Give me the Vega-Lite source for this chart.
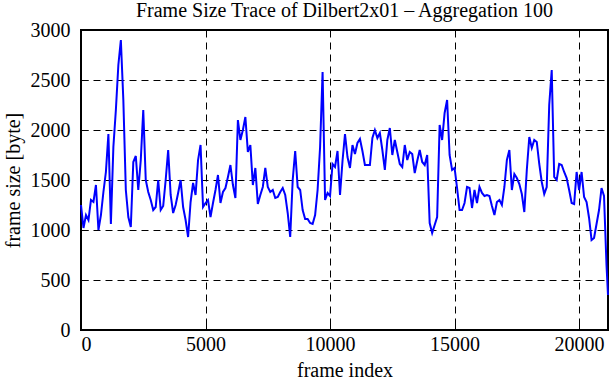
{
  "$schema": "https://vega.github.io/schema/vega-lite/v6.json",
  "width": 527,
  "height": 300,
  "autosize": {"type": "none"},
  "padding": {"left": 81, "top": 30, "right": 3, "bottom": 50},
  "background": "white",
  "title": {
    "text": "Frame Size Trace of Dilbert2x01 – Aggregation 100",
    "frame": "group",
    "anchor": "middle",
    "baseline": "alphabetic",
    "offset": -17,
    "font": "Liberation Serif",
    "fontSize": 20,
    "fontWeight": "normal",
    "color": "black"
  },
  "config": {
    "view": {"stroke": "black", "strokeWidth": 2},
    "axis": {
      "labelFont": "Liberation Serif",
      "labelFontSize": 20,
      "labelColor": "black",
      "titleFont": "Liberation Serif",
      "titleFontSize": 20,
      "titleFontWeight": "normal",
      "titleColor": "black",
      "domain": false,
      "grid": true,
      "gridColor": "black",
      "gridOpacity": 1,
      "gridWidth": 1,
      "gridDash": [7, 5],
      "ticks": true,
      "tickColor": "black",
      "tickWidth": 1,
      "tickSize": -7
    }
  },
  "data": {
    "values": [
      {"frame": 0, "size": 1250}, {"frame": 100, "size": 1020}, {"frame": 200, "size": 1150}, {"frame": 300, "size": 1100},
      {"frame": 400, "size": 1300}, {"frame": 500, "size": 1280}, {"frame": 600, "size": 1450}, {"frame": 700, "size": 1000},
      {"frame": 800, "size": 1150}, {"frame": 900, "size": 1380}, {"frame": 1000, "size": 1580}, {"frame": 1100, "size": 1960},
      {"frame": 1200, "size": 1060}, {"frame": 1300, "size": 1830}, {"frame": 1400, "size": 2200}, {"frame": 1500, "size": 2650},
      {"frame": 1600, "size": 2900}, {"frame": 1700, "size": 2300}, {"frame": 1800, "size": 1400}, {"frame": 1900, "size": 1130},
      {"frame": 2000, "size": 1030}, {"frame": 2100, "size": 1680}, {"frame": 2200, "size": 1740}, {"frame": 2300, "size": 1400},
      {"frame": 2400, "size": 1700}, {"frame": 2500, "size": 2200}, {"frame": 2600, "size": 1500}, {"frame": 2700, "size": 1380},
      {"frame": 2800, "size": 1300}, {"frame": 2900, "size": 1200}, {"frame": 3000, "size": 1230}, {"frame": 3100, "size": 1500},
      {"frame": 3200, "size": 1200}, {"frame": 3300, "size": 1240}, {"frame": 3400, "size": 1500}, {"frame": 3500, "size": 1800},
      {"frame": 3600, "size": 1350}, {"frame": 3700, "size": 1170}, {"frame": 3800, "size": 1250}, {"frame": 3900, "size": 1370},
      {"frame": 4000, "size": 1500}, {"frame": 4100, "size": 1230}, {"frame": 4200, "size": 1100}, {"frame": 4300, "size": 930},
      {"frame": 4400, "size": 1280}, {"frame": 4500, "size": 1470}, {"frame": 4600, "size": 1350}, {"frame": 4700, "size": 1700},
      {"frame": 4800, "size": 1850}, {"frame": 4900, "size": 1230}, {"frame": 5000, "size": 1270}, {"frame": 5100, "size": 1300},
      {"frame": 5200, "size": 1130}, {"frame": 5300, "size": 1270}, {"frame": 5400, "size": 1400}, {"frame": 5500, "size": 1550},
      {"frame": 5600, "size": 1270}, {"frame": 5700, "size": 1380}, {"frame": 5800, "size": 1420}, {"frame": 5900, "size": 1530},
      {"frame": 6000, "size": 1650}, {"frame": 6100, "size": 1450}, {"frame": 6200, "size": 1320}, {"frame": 6300, "size": 2100},
      {"frame": 6400, "size": 1900}, {"frame": 6500, "size": 2000}, {"frame": 6600, "size": 2130}, {"frame": 6700, "size": 1780},
      {"frame": 6800, "size": 1850}, {"frame": 6900, "size": 1450}, {"frame": 7000, "size": 1620}, {"frame": 7100, "size": 1260},
      {"frame": 7200, "size": 1350}, {"frame": 7300, "size": 1430}, {"frame": 7400, "size": 1620}, {"frame": 7500, "size": 1430},
      {"frame": 7600, "size": 1380}, {"frame": 7700, "size": 1400}, {"frame": 7800, "size": 1320}, {"frame": 7900, "size": 1330},
      {"frame": 8000, "size": 1380}, {"frame": 8100, "size": 1420}, {"frame": 8200, "size": 1350}, {"frame": 8300, "size": 1170},
      {"frame": 8400, "size": 930}, {"frame": 8500, "size": 1500}, {"frame": 8600, "size": 1790}, {"frame": 8700, "size": 1430},
      {"frame": 8800, "size": 1400}, {"frame": 8900, "size": 1200}, {"frame": 9000, "size": 1110}, {"frame": 9100, "size": 1110},
      {"frame": 9200, "size": 1070}, {"frame": 9300, "size": 1060}, {"frame": 9400, "size": 1150}, {"frame": 9500, "size": 1400},
      {"frame": 9600, "size": 1830}, {"frame": 9700, "size": 2580}, {"frame": 9800, "size": 1300}, {"frame": 9900, "size": 1370},
      {"frame": 10000, "size": 1340}, {"frame": 10100, "size": 1660}, {"frame": 10200, "size": 1630}, {"frame": 10300, "size": 1790},
      {"frame": 10400, "size": 1350}, {"frame": 10500, "size": 1690}, {"frame": 10600, "size": 1960}, {"frame": 10700, "size": 1730},
      {"frame": 10800, "size": 1620}, {"frame": 10900, "size": 1850}, {"frame": 11000, "size": 1760}, {"frame": 11100, "size": 1870},
      {"frame": 11200, "size": 1910}, {"frame": 11300, "size": 1790}, {"frame": 11400, "size": 1650}, {"frame": 11500, "size": 1650},
      {"frame": 11600, "size": 1650}, {"frame": 11700, "size": 1920}, {"frame": 11800, "size": 2000}, {"frame": 11900, "size": 1920},
      {"frame": 12000, "size": 1970}, {"frame": 12100, "size": 1800}, {"frame": 12200, "size": 1600}, {"frame": 12300, "size": 1900},
      {"frame": 12400, "size": 2020}, {"frame": 12500, "size": 1750}, {"frame": 12600, "size": 1900}, {"frame": 12700, "size": 1780},
      {"frame": 12800, "size": 1660}, {"frame": 12900, "size": 1630}, {"frame": 13000, "size": 1850}, {"frame": 13100, "size": 1700},
      {"frame": 13200, "size": 1780}, {"frame": 13300, "size": 1760}, {"frame": 13400, "size": 1570}, {"frame": 13500, "size": 1690},
      {"frame": 13600, "size": 1800}, {"frame": 13700, "size": 1680}, {"frame": 13800, "size": 1650}, {"frame": 13900, "size": 1750},
      {"frame": 14000, "size": 1070}, {"frame": 14100, "size": 970}, {"frame": 14200, "size": 1050}, {"frame": 14300, "size": 1130},
      {"frame": 14400, "size": 2050}, {"frame": 14500, "size": 1900}, {"frame": 14600, "size": 2170}, {"frame": 14700, "size": 2300},
      {"frame": 14800, "size": 1750}, {"frame": 14900, "size": 1600}, {"frame": 15000, "size": 1620}, {"frame": 15100, "size": 1420},
      {"frame": 15200, "size": 1200}, {"frame": 15300, "size": 1200}, {"frame": 15400, "size": 1270}, {"frame": 15500, "size": 1430},
      {"frame": 15600, "size": 1420}, {"frame": 15700, "size": 1220}, {"frame": 15800, "size": 1400}, {"frame": 15900, "size": 1270},
      {"frame": 16000, "size": 1430}, {"frame": 16100, "size": 1370}, {"frame": 16200, "size": 1340}, {"frame": 16300, "size": 1350},
      {"frame": 16400, "size": 1340}, {"frame": 16500, "size": 1240}, {"frame": 16600, "size": 1150}, {"frame": 16700, "size": 1280},
      {"frame": 16800, "size": 1300}, {"frame": 16900, "size": 1250}, {"frame": 17000, "size": 1430}, {"frame": 17100, "size": 1700},
      {"frame": 17200, "size": 1800}, {"frame": 17300, "size": 1400}, {"frame": 17400, "size": 1560}, {"frame": 17500, "size": 1520},
      {"frame": 17600, "size": 1460}, {"frame": 17700, "size": 1360}, {"frame": 17800, "size": 1180}, {"frame": 17900, "size": 1600},
      {"frame": 18000, "size": 1930}, {"frame": 18100, "size": 1820}, {"frame": 18200, "size": 1900}, {"frame": 18300, "size": 1880},
      {"frame": 18400, "size": 1660}, {"frame": 18500, "size": 1480}, {"frame": 18600, "size": 1360}, {"frame": 18700, "size": 1430},
      {"frame": 18800, "size": 2250}, {"frame": 18900, "size": 2600}, {"frame": 19000, "size": 1530}, {"frame": 19100, "size": 1500},
      {"frame": 19200, "size": 1660}, {"frame": 19300, "size": 1650}, {"frame": 19400, "size": 1580}, {"frame": 19500, "size": 1520},
      {"frame": 19600, "size": 1400}, {"frame": 19700, "size": 1270}, {"frame": 19800, "size": 1260}, {"frame": 19900, "size": 1580},
      {"frame": 20000, "size": 1400}, {"frame": 20100, "size": 1580}, {"frame": 20200, "size": 1330}, {"frame": 20300, "size": 1280},
      {"frame": 20400, "size": 1120}, {"frame": 20500, "size": 900}, {"frame": 20600, "size": 920}, {"frame": 20700, "size": 1060},
      {"frame": 20800, "size": 1200}, {"frame": 20900, "size": 1420}, {"frame": 21000, "size": 1340}, {"frame": 21100, "size": 650},
      {"frame": 21160, "size": 350}
    ]
  },
  "mark": {"type": "line", "color": "#0000ff", "strokeWidth": 2, "interpolate": "linear"},
  "encoding": {
    "x": {
      "field": "frame",
      "type": "quantitative",
      "scale": {"domain": [0, 21160], "nice": false, "zero": false},
      "axis": {
        "title": "frame index",
        "values": [0, 5000, 10000, 15000, 20000],
        "format": "d",
        "labelPadding": 11,
        "labelBaseline": "top",
        "titleBaseline": "alphabetic",
        "titleY": 46
      }
    },
    "y": {
      "field": "size",
      "type": "quantitative",
      "scale": {"domain": [0, 3000], "nice": false},
      "axis": {
        "title": "frame size [byte]",
        "values": [0, 500, 1000, 1500, 2000, 2500, 3000],
        "format": "d",
        "labelPadding": 18,
        "titleBaseline": "alphabetic",
        "titleX": -62
      }
    }
  }
}
